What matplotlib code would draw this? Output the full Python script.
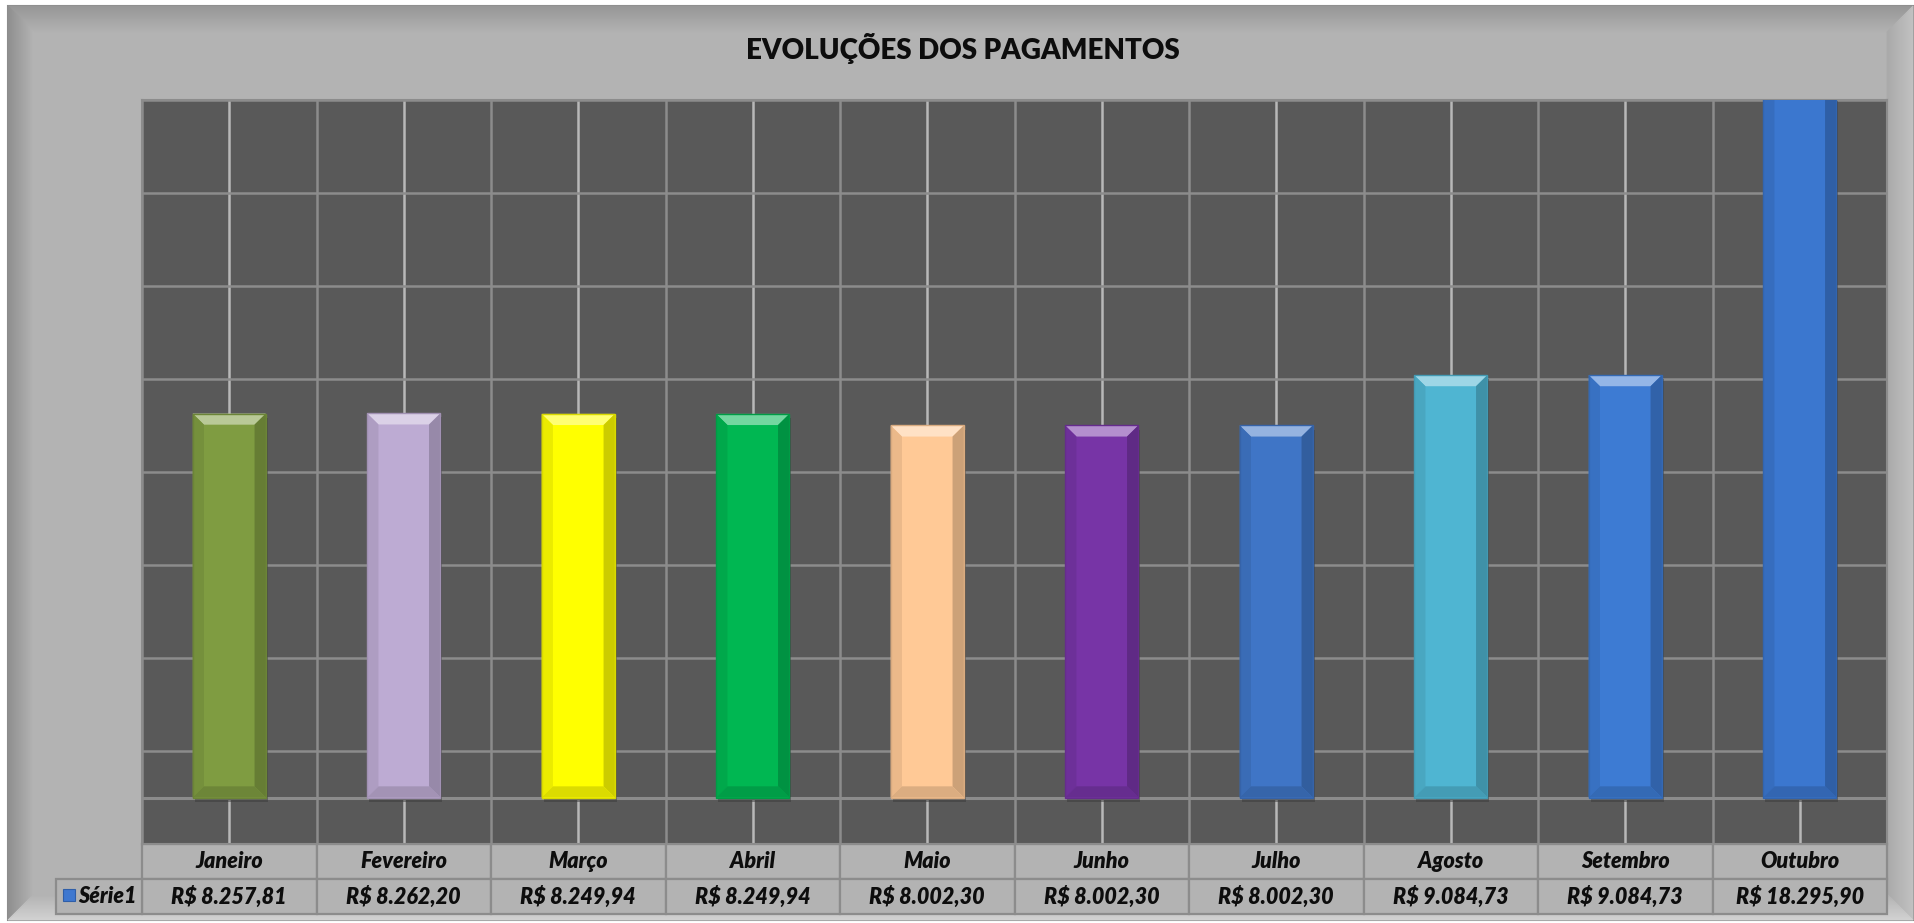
import numpy as np
import matplotlib
matplotlib.use("Agg")
import matplotlib.pyplot as plt
from matplotlib.patches import Rectangle, Polygon
from matplotlib.transforms import blended_transform_factory
from matplotlib.colors import to_rgb

# data
meses = ['Janeiro', 'Fevereiro', 'Março', 'Abril', 'Maio', 'Junho',
         'Julho', 'Agosto', 'Setembro', 'Outubro']
valores = [8257.81, 8262.20, 8249.94, 8249.94, 8002.30, 8002.30,
           8002.30, 9084.73, 9084.73, 18295.90]
rotulos = ['R$ 8.257,81', 'R$ 8.262,20', 'R$ 8.249,94', 'R$ 8.249,94',
           'R$ 8.002,30', 'R$ 8.002,30', 'R$ 8.002,30', 'R$ 9.084,73',
           'R$ 9.084,73', 'R$ 18.295,90']
cores = ['#7f9c41', '#bdabd3', '#ffff00', '#00b752', '#ffc996', '#7734a6',
         '#3f75c6', '#4fb5d2', '#3d7bd3', '#3b77cf']
serie = 'Série1'
titulo = 'EVOLUÇÕES DOS PAGAMENTOS'

W, H = 1915, 923
fig = plt.figure(figsize=(W / 100, H / 100), dpi=100)
fig.patch.set_facecolor('white')
FONT = ['Lato', 'DejaVu Sans']
TXT = dict(fontweight='heavy', family=FONT, color='#0d0d0d')


def mix(c, other, t):
    c = np.array(to_rgb(c))
    o = np.array(to_rgb(other))
    return tuple(c * (1 - t) + o * t)


# %%
# frame with bevel (pixel coords)
bg = fig.add_axes([0, 0, 1, 1], zorder=-5)
bg.set_xlim(0, W)
bg.set_ylim(H, 0)
bg.axis('off')
x0, y0, x1, y1 = 8, 6, 1913, 920
bg.add_patch(Rectangle((x0, y0), x1 - x0, y1 - y0, facecolor='#b3b3b3',
                       edgecolor='#8a8a8a', lw=1.5))
nb = 26
for i in range(nb):
    t = i / (nb - 1)
    a, b, c, d = x0 + i, y0 + i, x1 - i, y1 - i
    a2, b2, c2, d2 = a + 1, b + 1, c - 1, d - 1
    top = mix('#979797', '#b1b1b1', t)
    left = mix('#8f8f8f', '#b3b3b3', t)
    right = mix('#c2c2c2', '#aaaaaa', t)
    bottom = mix('#d2d2d2', '#b3b3b3', t)
    bg.add_patch(Polygon([(a, b), (c, b), (c2, b2), (a2, b2)], closed=True,
                         facecolor=top, edgecolor=top, lw=0.6))
    bg.add_patch(Polygon([(a, b), (a2, b2), (a2, d2), (a, d)], closed=True,
                         facecolor=left, edgecolor=left, lw=0.6))
    bg.add_patch(Polygon([(c, b), (c2, b2), (c2, d2), (c, d)], closed=True,
                         facecolor=right, edgecolor=right, lw=0.6))
    bg.add_patch(Polygon([(a, d), (c, d), (c2, d2), (a2, d2)], closed=True,
                         facecolor=bottom, edgecolor=bottom, lw=0.6))

bg.text(963, 49, titulo, ha='center', va='center', fontsize=20, **TXT)

# %%
# plot area
ax_l, ax_t, ax_r, ax_b = 142, 100, 1887, 844
ax = fig.add_axes([ax_l / W, (H - ax_b) / H, (ax_r - ax_l) / W, (ax_b - ax_t) / H])
ax.set_facecolor('#595959')
n = len(meses)
pos = np.arange(n)
ax.set_xlim(-0.5, n - 0.5)
ax.set_ylim(-1000, 15000)
ax.set_yticks(np.arange(-1000, 15001, 2000))
ax.set_xticks(np.arange(-0.5, n, 1.0))
ax.set_xticks(pos, minor=True)
ax.grid(True, which='major', color='#8c8c8c', lw=1.8, zorder=0)
ax.grid(True, which='minor', axis='x', color='#b8b8b8', lw=1.8, zorder=0)
ax.axhline(0, color='#8c8c8c', lw=2.2, zorder=1)
ax.set_axisbelow(True)
ax.tick_params(which='both', length=0, labelbottom=False, labelleft=False)
for s in ax.spines.values():
    s.set_color('#8c8c8c')
    s.set_linewidth(1.5)

bw = 0.42
bx = 0.065   # bevel width, category units
by = 240     # bevel height, data units
# shadow
ax.bar(pos + 0.012, valores, width=bw, bottom=-90, color='#3a3a3a', alpha=0.5,
       zorder=2, lw=0)
bars = ax.bar(pos, valores, width=bw, color=cores, zorder=3, lw=0)
for b, c in zip(bars, cores):
    l = b.get_x()
    r = l + b.get_width()
    h = b.get_height()
    facets = [
        ([(l, h), (r, h), (r - bx, h - by), (l + bx, h - by)], mix(c, 'white', 0.45)),
        ([(l, 0), (l + bx, by), (l + bx, h - by), (l, h)], mix(c, 'black', 0.08)),
        ([(r, 0), (r - bx, by), (r - bx, h - by), (r, h)], mix(c, 'black', 0.2)),
        ([(l, 0), (r, 0), (r - bx, by), (l + bx, by)], mix(c, 'black', 0.14)),
    ]
    for pts, fc in facets:
        ax.add_patch(Polygon(pts, closed=True, facecolor=fc, edgecolor='none',
                             zorder=4))
    ax.add_patch(Rectangle((l, 0), r - l, h, facecolor='none',
                           edgecolor=mix(c, 'black', 0.15), lw=1, zorder=5))

# %%
# data table under the chart
tr = blended_transform_factory(ax.transData, bg.transData)
r1, r2, r3 = 844, 879, 914
ec = '#8c8c8c'
for i in range(n):
    for ya, yb in [(r1, r2), (r2, r3)]:
        bg.add_patch(Rectangle((i - 0.5, ya), 1, yb - ya, transform=tr,
                               facecolor='#b3b3b3', edgecolor=ec, lw=1.6,
                               zorder=2))
    bg.text(i, (r1 + r2) / 2, meses[i], transform=tr, ha='center', va='center',
            fontsize=15.5, style='italic', zorder=3, **TXT)
    bg.text(i, (r2 + r3) / 2, rotulos[i], transform=tr, ha='center', va='center',
            fontsize=15.5, style='italic', zorder=3, **TXT)
bg.add_patch(Rectangle((56, r2), ax_l - 56, r3 - r2, facecolor='#b3b3b3',
                       edgecolor=ec, lw=1.6, zorder=2))
bg.add_patch(Rectangle((63, 889), 12, 12, facecolor='#3f78d0',
                       edgecolor='#2f5ea8', lw=0.8, zorder=3))
bg.text(78, (r2 + r3) / 2, serie, ha='left', va='center', fontsize=15.5,
        style='italic', zorder=3, **TXT)

fig.savefig('out.png', dpi=100)
